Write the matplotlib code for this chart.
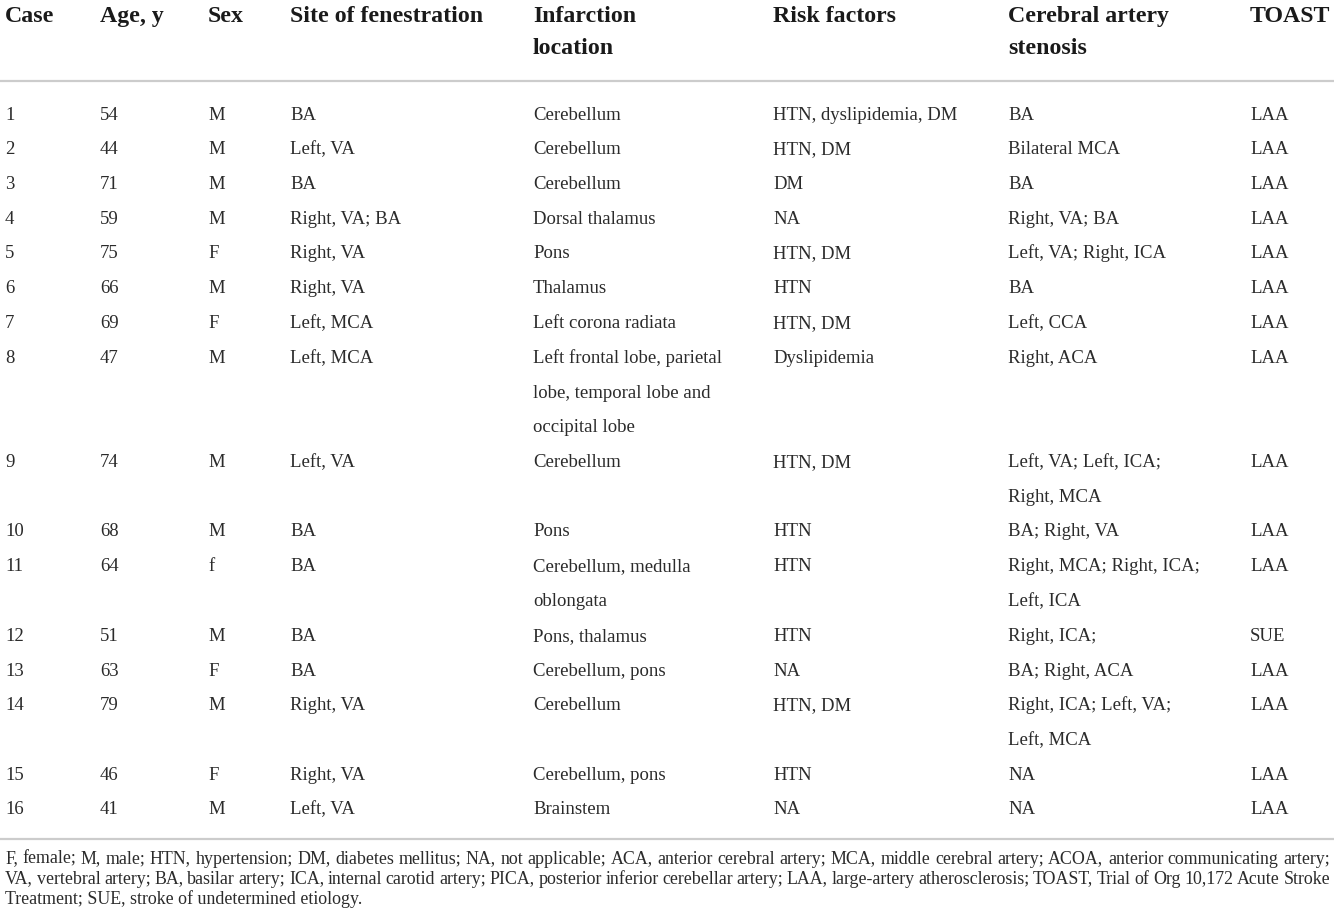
import matplotlib
matplotlib.use("Agg")
import matplotlib.pyplot as plt

# ---------------- data ----------------
headers = [["Case"], ["Age, y"], ["Sex"], ["Site of fenestration"],
           ["Infarction", "location"], ["Risk factors"],
           ["Cerebral artery", "stenosis"], ["TOAST"]]

cases = [str(i) for i in range(1, 17)]
ages = ["54", "44", "71", "59", "75", "66", "69", "47", "74", "68", "64", "51", "63", "79", "46", "41"]
sexes = ["M", "M", "M", "M", "F", "M", "F", "M", "M", "M", "f", "M", "F", "M", "F", "M"]
sites = ["BA", "Left, VA", "BA", "Right, VA; BA", "Right, VA", "Right, VA", "Left, MCA",
         "Left, MCA", "Left, VA", "BA", "BA", "BA", "BA", "Right, VA", "Right, VA", "Left, VA"]
infarction = [["Cerebellum"], ["Cerebellum"], ["Cerebellum"], ["Dorsal thalamus"], ["Pons"],
              ["Thalamus"], ["Left corona radiata"],
              ["Left frontal lobe, parietal", "lobe, temporal lobe and", "occipital lobe"],
              ["Cerebellum"], ["Pons"], ["Cerebellum, medulla", "oblongata"],
              ["Pons, thalamus"], ["Cerebellum, pons"], ["Cerebellum"], ["Cerebellum, pons"],
              ["Brainstem"]]
risk = ["HTN, dyslipidemia, DM", "HTN, DM", "DM", "NA", "HTN, DM", "HTN", "HTN, DM",
        "Dyslipidemia", "HTN, DM", "HTN", "HTN", "HTN", "NA", "HTN, DM", "HTN", "NA"]
stenosis = [["BA"], ["Bilateral MCA"], ["BA"], ["Right, VA; BA"], ["Left, VA; Right, ICA"],
            ["BA"], ["Left, CCA"], ["Right, ACA"], ["Left, VA; Left, ICA;", "Right, MCA"],
            ["BA; Right, VA"], ["Right, MCA; Right, ICA;", "Left, ICA"], ["Right, ICA;"],
            ["BA; Right, ACA"], ["Right, ICA; Left, VA;", "Left, MCA"], ["NA"], ["NA"]]
toast = ["LAA"] * 11 + ["SUE"] + ["LAA"] * 4

footnote = [
    "F, female; M, male; HTN, hypertension; DM, diabetes mellitus; NA, not applicable; ACA, anterior cerebral artery; MCA, middle cerebral artery; ACOA, anterior communicating artery;",
    "VA, vertebral artery; BA, basilar artery; ICA, internal carotid artery; PICA, posterior inferior cerebellar artery; LAA, large-artery atherosclerosis; TOAST, Trial of Org 10,172 Acute Stroke",
    "Treatment; SUE, stroke of undetermined etiology.",
]

# ---------------- layout ----------------
W, H = 1334, 924
fig = plt.figure(figsize=(W / 100, H / 100), dpi=100)
ax = fig.add_axes([0, 0, 1, 1])
ax.set_xlim(0, W)
ax.set_ylim(H, 0)
ax.axis("off")

FONT = "Liberation Serif"
col_x = [5, 100, 208, 290, 533, 773, 1008, 1250]
hdr_size = 17.2
body_size = 13.5
foot_size = 12.9
hdr_color = "#1a1a1a"
body_color = "#2b2b2b"
line_color = "#cccccc"

# header
hdr_base = [22, 54]
for x, lines in zip(col_x, headers):
    for i, t in enumerate(lines):
        ax.text(x, hdr_base[i], t, fontsize=hdr_size, fontweight="bold", family=FONT,
                color=hdr_color, va="baseline", ha="left")

ax.plot([0, W], [81, 81], color=line_color, lw=1.6, solid_capstyle="butt")

# body
first_base = 119.5
pitch = 34.75
line_idx = 0
for r in range(len(cases)):
    cols = [[cases[r]], [ages[r]], [sexes[r]], [sites[r]], infarction[r], [risk[r]],
            stenosis[r], [toast[r]]]
    nlines = max(len(c) for c in cols)
    for x, lines in zip(col_x, cols):
        for k, t in enumerate(lines):
            ax.text(x, first_base + (line_idx + k) * pitch, t, fontsize=body_size,
                    family=FONT, color=body_color, va="baseline", ha="left")
    line_idx += nlines

ax.plot([0, W], [839, 839], color=line_color, lw=1.6, solid_capstyle="butt")

# footnote (justified except last line)
foot_base = [863.5, 883.5, 903.5]
x0, x1 = 5, 1330
fig.canvas.draw()
renderer = fig.canvas.get_renderer()
for li, (t, yb) in enumerate(zip(footnote, foot_base)):
    if li == len(footnote) - 1:
        ax.text(x0, yb, t, fontsize=foot_size, family=FONT, color=body_color,
                va="baseline", ha="left")
        continue
    words = t.split(" ")
    arts = [ax.text(0, yb, w, fontsize=foot_size, family=FONT, color=body_color,
                    va="baseline", ha="left") for w in words]
    widths = [a.get_window_extent(renderer).width for a in arts]
    gap = (x1 - x0 - sum(widths)) / (len(words) - 1)
    x = x0
    for a, w in zip(arts, widths):
        a.set_x(x)
        x += w + gap

fig.savefig("out.png", dpi=100, facecolor="white")
